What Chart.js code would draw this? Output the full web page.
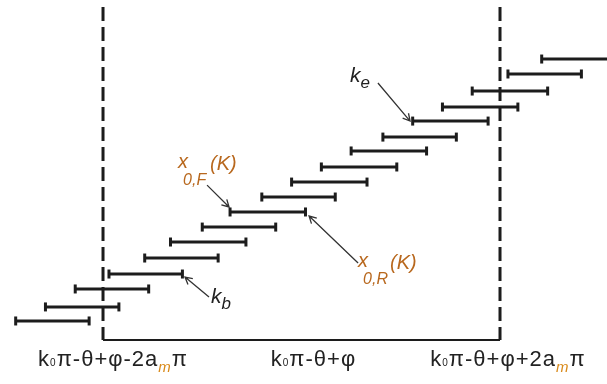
<!DOCTYPE html>
<html>
<head>
<meta charset="utf-8">
<script src="https://cdn.jsdelivr.net/npm/chart.js@4.4.0/dist/chart.umd.min.js"></script>
<style>
  html, body { margin: 0; padding: 0; background: #fff; }
</style>
</head>
<body>
<canvas id="myChart" width="607" height="384"></canvas>
<script>
// x in units of 2*a_m*pi around k0*pi-theta+phi, y is the level of each interval
var levels = [1.26, 2.19, 3.38, 4.37, 5.43, 6.49, 7.48, 8.48, 9.47, 10.46, 11.46, 12.52, 13.44, 14.50, 15.43, 16.49, 17.62, 18.61];
var startsX = [-1.44, -1.29, -1.14, -0.97, -0.79, -0.66, -0.50, -0.36, -0.20, -0.05, 0.10, 0.25, 0.41, 0.56, 0.71, 0.86, 1.04, 1.21];
var endsX = [-1.07, -0.92, -0.77, -0.60, -0.42, -0.28, -0.13, 0.02, 0.17, 0.33, 0.48, 0.63, 0.78, 0.94, 1.09, 1.24, 1.41, 1.58];
var boundsX = [-1, 1];
var boundTop = 22.05;
var tickValues = [-1, 0, 1];
// each tick label: [text, style] pieces
var tickLabels = [
    [['k', 'n'], ['0', 's'], ['π-θ+φ-2a', 'n'], ['m', 'm'], ['π', 'n']],
    [['k', 'n'], ['0', 's'], ['π-θ+φ', 'n']],
    [['k', 'n'], ['0', 's'], ['π-θ+φ+2a', 'n'], ['m', 'm'], ['π', 'n']]
];
var tickShift = [10, 12, 8]; // labels sit a bit right of their tick
// annotations: label position, arrow start and arrow end (data units)
var notes = [
    { parts: [['k', 'k'], ['b', 'kb']], x: -0.456, y: 2.45, from: [-0.466, 2.85], to: [-0.587, 4.17] },
    { parts: [['k', 'k'], ['e', 'kb']], x: 0.244, y: 17.09, from: [0.385, 17.02], to: [0.547, 14.50] },
    { parts: [['x', 'x'], ['0,F', 'xs'], ['(K)', 'x']], x: -0.622, y: 11.39, from: [-0.476, 10.26], to: [-0.365, 8.81] },
    { parts: [['x', 'x'], ['0,R', 'xs'], ['(K)', 'x']], x: 0.285, y: 4.83, from: [0.285, 5.10], to: [0.038, 8.21] }
];

var ink = '#1c1c1c';
var noteColor = '#b8681e';

var datasets = [];
for (var i = 0; i < levels.length; i++) {
    datasets.push({
        data: [{ x: startsX[i], y: levels[i] }, { x: endsX[i], y: levels[i] }],
        showLine: true,
        borderColor: ink,
        borderWidth: 3,
        pointStyle: 'line',
        rotation: 90,
        pointRadius: 4.5,
        pointBorderWidth: 3,
        pointBorderColor: ink,
        clip: false
    });
}
boundsX.forEach(function (bx) {
    datasets.push({
        data: [{ x: bx, y: boundTop }, { x: bx, y: 0 }],
        showLine: true,
        borderColor: ink,
        borderWidth: 3,
        borderDash: [14, 6],
        pointRadius: 0,
        clip: false
    });
});
datasets.push({
    data: [{ x: boundsX[0], y: 0 }, { x: boundsX[1], y: 0 }],
    showLine: true,
    borderColor: ink,
    borderWidth: 2,
    pointRadius: 0,
    clip: false
});

var fonts = {
    n: { font: '22px "Liberation Sans", Arial, sans-serif', color: '#222', dy: 0, sp: '1px' },
    s: { font: '10px "Liberation Sans", Arial, sans-serif', color: '#222', dy: 0, sp: '1px' },
    m: { font: 'italic 15px "Liberation Sans", Arial, sans-serif', color: '#d98a1a', dy: 6, sp: '1px' },
    k: { font: 'italic 21px "Liberation Sans", Arial, sans-serif', color: '#222', dy: 0, sp: '0px' },
    kb: { font: 'italic 17px "Liberation Sans", Arial, sans-serif', color: '#222', dy: 6, sp: '0px' },
    x: { font: 'italic 20px "Liberation Sans", Arial, sans-serif', color: noteColor, dy: 0, sp: '0px' },
    xs: { font: 'italic 16px "Liberation Sans", Arial, sans-serif', color: noteColor, dy: 17, sp: '0px' }
};

function partsWidth(c, parts) {
    var w = 0;
    parts.forEach(function (p) {
        c.font = fonts[p[1]].font;
        c.letterSpacing = fonts[p[1]].sp;
        w += c.measureText(p[0]).width;
    });
    return w;
}

function drawParts(c, x, y, parts) {
    var cx = x;
    parts.forEach(function (p) {
        var f = fonts[p[1]];
        c.font = f.font;
        c.letterSpacing = f.sp;
        c.fillStyle = f.color;
        c.fillText(p[0], cx, y + f.dy);
        cx += c.measureText(p[0]).width;
    });
}

function drawArrow(c, x1, y1, x2, y2) {
    var ang = Math.atan2(y2 - y1, x2 - x1);
    var h = 8;
    c.beginPath();
    c.moveTo(x1, y1);
    c.lineTo(x2, y2);
    c.moveTo(x2 - h * Math.cos(ang - 0.5), y2 - h * Math.sin(ang - 0.5));
    c.lineTo(x2, y2);
    c.lineTo(x2 - h * Math.cos(ang + 0.5), y2 - h * Math.sin(ang + 0.5));
    c.stroke();
}

var labelPlugin = {
    id: 'labels',
    afterDatasetsDraw: function (chart) {
        var c = chart.ctx;
        var xs = chart.scales.x;
        var ys = chart.scales.y;
        c.save();
        c.textBaseline = 'alphabetic';
        c.textAlign = 'left';
        // tick labels under the axis
        tickValues.forEach(function (v, i) {
            var w = partsWidth(c, tickLabels[i]);
            var px = xs.getPixelForValue(v) + tickShift[i] - w / 2;
            drawParts(c, px, ys.getPixelForValue(0) + 26, tickLabels[i]);
        });
        c.letterSpacing = '0px';
        // annotations
        c.strokeStyle = '#333';
        c.lineWidth = 1.3;
        notes.forEach(function (n) {
            drawArrow(c, xs.getPixelForValue(n.from[0]), ys.getPixelForValue(n.from[1]),
                xs.getPixelForValue(n.to[0]), ys.getPixelForValue(n.to[1]));
            var bx = xs.getPixelForValue(n.x);
            var by = ys.getPixelForValue(n.y);
            if (n.parts[0][0] === 'x') {
                // x, subscript below it, then (K) after a gap
                c.fillStyle = noteColor;
                c.font = fonts.x.font;
                c.fillText('x', bx, by);
                c.font = fonts.xs.font;
                c.fillText(n.parts[1][0], bx + 5, by + fonts.xs.dy);
                c.font = fonts.x.font;
                c.fillText('(K)', bx + 32, by + 2);
            } else {
                drawParts(c, bx, by, n.parts);
            }
        });
        c.restore();
    }
};

var ctx = document.getElementById('myChart');
var myChart = new Chart(ctx, {
    type: 'scatter',
    data: { datasets: datasets },
    options: {
        responsive: false,
        animation: false,
        layout: { autoPadding: false, padding: { left: 0, right: 0, top: 0, bottom: 44 } },
        scales: {
            x: { type: 'linear', min: -1.519, max: 1.539, display: false },
            y: { type: 'linear', min: 0, max: 22.52, display: false }
        },
        plugins: {
            legend: { display: false },
            tooltip: { enabled: false }
        }
    },
    plugins: [labelPlugin]
});
</script>
</body>
</html>
